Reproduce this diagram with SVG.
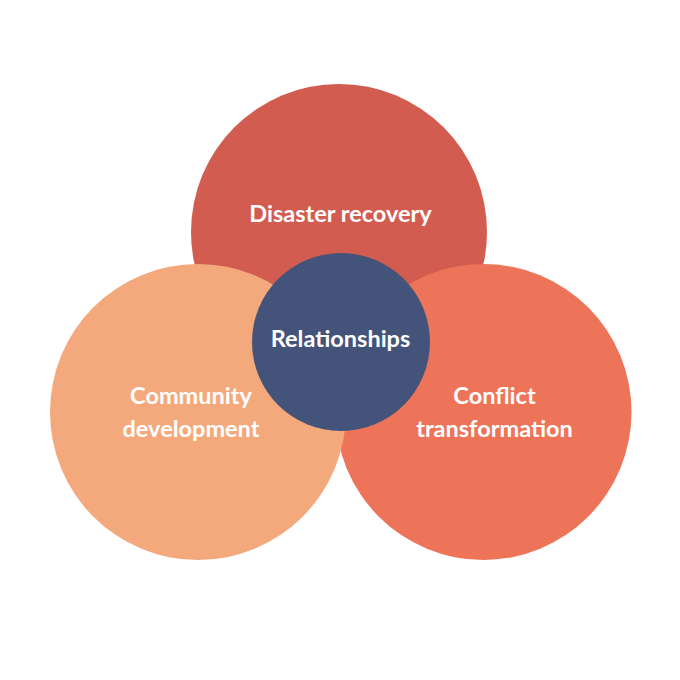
<svg xmlns="http://www.w3.org/2000/svg" width="680" height="680" viewBox="0 0 680 680">
<style>
.lbl{font-family:Lato,"Open Sans","DejaVu Sans",sans-serif;font-weight:700;font-size:23.5px;fill:#ffffff;text-anchor:middle}
</style>
<rect width="680" height="680" fill="#ffffff"/>
<g id="connectors"></g>
<g id="disaster-recovery">
<circle cx="339" cy="232" r="148" fill="#d35c50"/>
<text class="lbl" x="340.5" y="222">Disaster recovery</text>
</g>
<g id="conflict-transformation">
<circle cx="483.5" cy="412" r="148" fill="#ee7459"/>
<text class="lbl" x="494.5" y="404">Conflict</text>
<text class="lbl" x="494.5" y="437">transformation</text>
</g>
<g id="community-development">
<circle cx="198" cy="412" r="148" fill="#f4a97c"/>
<text class="lbl" x="191" y="404">Community</text>
<text class="lbl" x="191" y="437">development</text>
</g>
<g id="relationships">
<circle cx="341" cy="342" r="89" fill="#44537a"/>
<text class="lbl" x="340.5" y="347">Relationships</text>
</g>
</svg>
